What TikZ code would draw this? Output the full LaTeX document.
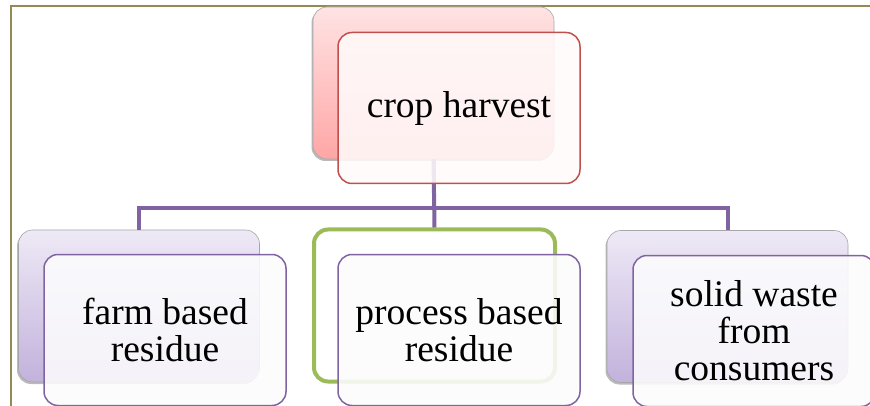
\documentclass[tikz,border=0pt]{standalone}
\usepackage{fontspec}
\setmainfont{Liberation Serif}
\usetikzlibrary{shadows}
\definecolor{frameolive}{HTML}{948A54}
\definecolor{linkpurple}{HTML}{8064A2}
\definecolor{redline}{HTML}{C0504D}
\definecolor{greenline}{HTML}{9BBB59}
\definecolor{pinktop}{HTML}{FFE3E3}
\definecolor{pinkbot}{HTML}{FFA6A6}
\definecolor{lilactop}{HTML}{EEE9F6}
\definecolor{lilacbot}{HTML}{C2B2DC}
\tikzset{
  backbox/.style={rectangle, rounded corners=14pt, minimum width=241pt, minimum height=152pt, inner sep=0pt,
    draw=gray!70, line width=0.6pt, drop shadow={shadow xshift=-1.5pt, shadow yshift=-2pt, opacity=0.45, fill=black!60}},
  pinkback/.style={backbox, top color=pinktop, bottom color=pinkbot},
  lilacback/.style={backbox, top color=lilactop, bottom color=lilacbot},
  greenback/.style={rectangle, rounded corners=14pt, minimum width=241pt, minimum height=152pt, inner sep=0pt,
    draw=greenline, line width=4pt, fill=white},
  frontbox/.style={rectangle, rounded corners=14pt, minimum width=242pt, minimum height=151pt, inner sep=0pt,
    line width=1.5pt, fill=white, fill opacity=0.88, text opacity=1, align=center,
    font=\fontsize{37.5}{37}\selectfont},
  redfront/.style={frontbox, draw=redline, fill=red!2},
  purplefront/.style={frontbox, draw=linkpurple, fill=linkpurple!2},
  link/.style={draw=linkpurple, line width=4pt}
}
\begin{document}
\begin{tikzpicture}[x=1pt,y=-1pt]
\useasboundingbox (0,0) rectangle (870,406);
\draw[frameolive, line width=2.5pt] (11,406) -- (11,6) -- (870,6);
% back boxes
\node[pinkback] (tb) at (433.5,83) {};
\node[lilacback] (lb) at (139,306) {};
\node[greenback] (mb) at (434.5,305.5) {};
\node[lilacback] (rb) at (727.5,306.5) {};
% connectors
\coordinate (bar) at (433.5,208);
\draw[link] (tb.south) -- (tb.south |- bar) -| (lb.north);
\draw[link] (tb.south |- bar) -| (rb.north);
\draw[link] (tb.south) -- (mb.north);
% front boxes
\node[redfront] (tf) at (459,108) {crop harvest};
\node[purplefront] (lf) at (165,330) {farm based\\residue};
\node[purplefront] (mf) at (459,330) {process based\\residue};
\node[purplefront] (rf) at (754,331) {solid waste\\from\\consumers};
\end{tikzpicture}
\end{document}
